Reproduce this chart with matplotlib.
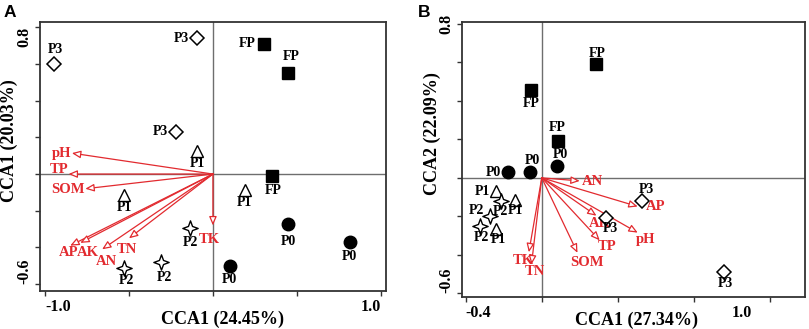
import numpy as np
import matplotlib
matplotlib.use('Agg')
from matplotlib import pyplot as plt
from matplotlib.path import Path

# ---- panel A data ----
a_site = ['P3', 'P3', 'P3', 'FP', 'FP', 'FP', 'P1', 'P1', 'P1', 'P0', 'P0', 'P0', 'P2', 'P2', 'P2']
a_x = [-0.946, -0.093, -0.218, 0.307, 0.45, 0.35, -0.093, -0.53, 0.19, 0.45, 0.815, 0.10, -0.134, -0.31, -0.53]
a_y = [0.60, 0.74, 0.23, 0.71, 0.55, -0.01, 0.125, -0.115, -0.087, -0.27, -0.37, -0.50, -0.295, -0.48, -0.51]
a_env = ['pH', 'TP', 'SOM', 'AP', 'AK', 'AN', 'TN', 'TK']
a_env_x = [-0.84, -0.86, -0.76, -0.85, -0.79, -0.66, -0.50, 0.0]
a_env_y = [0.114, 0.0, -0.08, -0.39, -0.375, -0.41, -0.35, -0.28]

# ---- panel B data ----
b_site = ['FP', 'FP', 'FP', 'P0', 'P0', 'P0', 'P1', 'P2', 'P1', 'P2', 'P2', 'P1', 'P3', 'P3', 'P3']
b_x = [0.283, -0.058, 0.083, -0.18, -0.06, 0.08, -0.24, -0.216, -0.142, -0.274, -0.326, -0.242, 0.53, 0.34, 0.96]
b_y = [0.59, 0.456, 0.193, 0.03, 0.03, 0.06, -0.07, -0.123, -0.114, -0.197, -0.249, -0.264, -0.123, -0.21, -0.49]
b_env = ['AN', 'AP', 'AK', 'pH', 'TP', 'SOM', 'TK', 'TN']
b_env_x = [0.20, 0.505, 0.288, 0.505, 0.305, 0.188, -0.068, -0.054]
b_env_y = [-0.016, -0.149, -0.197, -0.285, -0.325, -0.39, -0.387, -0.45]

# label offsets in pixels (dx, dy), layout only
a_site_off = [(1, 14), (-16, 0), (-16, 0), (-17, 0), (3, 17), (2, -15), (0, -12), (0, -12), (0, -12),
              (0, -18), (0, -15), (0, -14), (0, -14), (4, -15), (3, -13)]
a_env_off = [(-10, 0), (-9, 5), (-17, -1), (-2, -7), (8, -10), (4, -12), (-2, -11), (-4, -14)]
b_site_off = [(2, 11), (1, -13), (0, 13), (-14, 0), (2, 12), (3, 12), (-14, 0), (0, -10), (1, -11),
              (-13, 5), (2, -11.5), (3, -11), (4, 12), (4, -10), (1, -11)]
b_env_off = [(12.5, -1), (18, 0), (3, -8), (8, -7), (7, -6), (9, -10), (-6, -8), (3, -7)]

DPI = 100
RED = '#e22a2f'
star = Path.unit_regular_star(4, 0.38)
markers = {
    'P3': dict(marker='D', ms=6.8, mfc='white', mec='black', mew=1.1),
    'FP': dict(marker='s', ms=8.2, mfc='black', mec='black', mew=1.0),
    'P0': dict(marker='o', ms=9.0, mfc='black', mec='black', mew=1.0),
    'P1': dict(marker='^', ms=9.0, mfc='white', mec='black', mew=1.0),
    'P2': dict(marker=star, ms=11.0, mfc='white', mec='black', mew=1.0),
}

plt.rcParams['font.family'] = ['Liberation Serif', 'DejaVu Serif']
plt.rcParams['font.weight'] = 'bold'

fig = plt.figure(figsize=(8.09, 3.29), dpi=DPI)


def draw_panel(ax, site, sx, sy, soff, env, ex, ey, eoff):
    ax.axhline(0, color='#6e6e6e', lw=1.0, zorder=1)
    ax.axvline(0, color='#6e6e6e', lw=1.0, zorder=1)
    for name, x, y, (dx, dy) in zip(env, ex, ey, eoff):
        ax.annotate('', xy=(x, y), xytext=(0, 0),
                    arrowprops=dict(arrowstyle='-|>,head_length=0.7,head_width=0.3',
                                    ec=RED, fc='white', lw=0.9, shrinkA=0, shrinkB=0,
                                    mutation_scale=7.5), zorder=2)
        ax.annotate(name, (x, y), xytext=(dx * 72 / DPI, dy * 72 / DPI), textcoords='offset points',
                    ha='center', va='center', color=RED, fontsize=10.5, fontweight='bold', zorder=3)
    for name, x, y, (dx, dy) in zip(site, sx, sy, soff):
        ax.plot(x, y, ls='none', zorder=4, **markers[name])
        ax.annotate(name, (x, y), xytext=(dx * 72 / DPI, dy * 72 / DPI), textcoords='offset points',
                    ha='center', va='center', color='black', fontsize=10, fontweight='bold', zorder=5)
    for s in ax.spines.values():
        s.set_linewidth(1.3)
        s.set_color('#333333')
    ax.tick_params(direction='out', length=3.5, width=1.0, color='#333333', labelsize=11.5, pad=2)


# panel A
axA = fig.add_axes([0.0494, 0.1155, 0.4276, 0.8175])
draw_panel(axA, a_site, a_x, a_y, a_site_off, a_env, a_env_x, a_env_y, a_env_off)
axA.set_xlim(-1.03, 1.03)
axA.set_ylim(-0.637, 0.828)
axA.set_xticks([-1.0, -0.5, 0, 0.5, 1.0], ['-1.0', '', '', '', '1.0'])
axA.set_yticks([-0.6, -0.4, -0.2, 0, 0.2, 0.4, 0.6, 0.8], ['-0.6', '', '', '', '', '', '', '0.8'])
axA.set_xlabel('CCA1 (24.45%)', fontsize=13, fontweight='bold')
axA.set_ylabel('CCA1 (20.03%)', fontsize=13, fontweight='bold')
axA.xaxis.set_label_coords(0.529, -0.075)
axA.yaxis.set_label_coords(-0.063, 0.558)
xl = axA.get_xticklabels()
xl[0].set_ha('left'); xl[-1].set_ha('right')
yl = axA.get_yticklabels()
for t in yl:
    t.set_rotation(90)
yl[0].set_va('bottom'); yl[-1].set_va('top')

# panel B
axB = fig.add_axes([0.571, 0.097, 0.424, 0.836])
draw_panel(axB, b_site, b_x, b_y, b_site_off, b_env, b_env_x, b_env_y, b_env_off)
axB.set_xlim(-0.42, 1.385)
axB.set_ylim(-0.62, 0.81)
axB.set_xticks([-0.4, 0, 0.4, 0.8, 1.0, 1.2], ['-0.4', '', '', '', '1.0', ''])
axB.set_yticks([-0.6, -0.4, -0.2, 0, 0.2, 0.4, 0.6, 0.8], ['-0.6', '', '', '', '', '', '', '0.8'])
axB.set_xlabel('CCA1 (27.34%)', fontsize=13, fontweight='bold')
axB.set_ylabel('CCA2 (22.09%)', fontsize=13, fontweight='bold')
axB.xaxis.set_label_coords(0.51, -0.052)
axB.yaxis.set_label_coords(-0.06, 0.596)
xl = axB.get_xticklabels()
xl[0].set_ha('left'); xl[4].set_ha('left')
axB.xaxis.get_major_ticks()[4].tick1line.set_visible(False)
yl = axB.get_yticklabels()
for t in yl:
    t.set_rotation(90)
yl[0].set_va('bottom'); yl[-1].set_va('center')

fig.text(0.004, 0.985, 'A', fontsize=12.5, fontweight='bold', family='Liberation Sans', ha='left', va='top')
fig.text(0.516, 0.985, 'B', fontsize=12.5, fontweight='bold', family='Liberation Sans', ha='left', va='top')

fig.savefig('out.png', dpi=DPI)
